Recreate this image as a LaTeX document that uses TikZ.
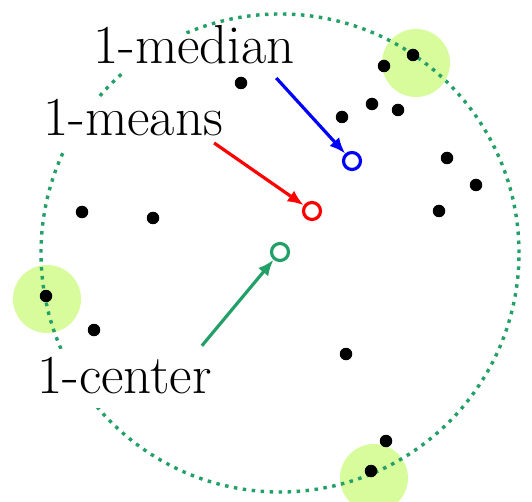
\documentclass[tikz,border=0pt]{standalone}
\usetikzlibrary{arrows.meta,calc}

\definecolor{ballgreen}{RGB}{34,160,104}
\definecolor{farfill}{RGB}{216,252,156}

\begin{document}
\begin{tikzpicture}[x=1pt, y=-1pt,
    pt/.style={circle, fill=black, inner sep=0pt, minimum size=12.5pt},
    far/.style={circle, fill=farfill, inner sep=0pt, minimum size=68pt},
    sol/.style={circle, draw=#1, line width=3.2pt, inner sep=0pt, minimum size=17pt},
    lab/.style={fill=white, inner sep=4pt, anchor=base west, font=\fontsize{55}{66}\selectfont},
    line/.style={draw=#1, line width=3.2pt, -{Latex[length=16pt,width=13pt]}}
]
\clip (0,0) rectangle (532,502);

% farthest points of the ball
\node[far] (f1) at (416,63) {};
\node[far] (f2) at (47,299) {};
\node[far] (f3) at (374,478) {};

% enclosing ball
\draw[ballgreen, line width=3.4pt, dash pattern=on 3.5pt off 5.5pt] (280,253) circle (239pt);

% data points
\foreach \x/\y [count=\i] in {241/83, 384/66, 413/55, 342/117, 372/104, 398/110,
    447/158, 476/185, 439/211, 82/212, 153/218, 46/296, 94/330, 346/354, 386/441, 371/471}
    \node[pt] (p\i) at (\x,\y) {};

% labels
\node[lab, text height=26pt, text depth=4pt] (lmedian) at (89,64) {1-median};
\node[lab, text height=34pt, text depth=9pt] (lmeans) at (39,136) {1-means};
\node[lab, text height=40pt, text depth=11pt] (lcenter) at (33,393) {1-center};

% solutions
\node[sol=blue] (median) at (352,161) {};
\node[sol=red] (means) at (312,211) {};
\node[sol=ballgreen] (center) at (280,252) {};

\path[line=blue] ([shift={(-23,14)}]lmedian.base east) -- (median);
\path[line=red] ([shift={(-13,7)}]lmeans.base east) -- (means);
\path[line=ballgreen] ([shift={(-14,-3)}]lcenter.north east) -- (center);

\end{tikzpicture}
\end{document}
